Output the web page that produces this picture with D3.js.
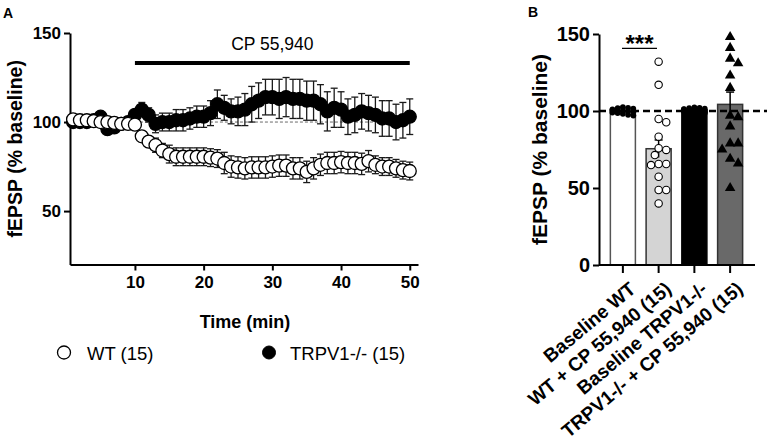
<!DOCTYPE html>
<html>
<head>
<meta charset="utf-8">
<script src="https://cdn.jsdelivr.net/npm/d3@7"></script>
<style>
  html, body { margin: 0; padding: 0; background: #fff; }
  svg { display: block; font-family: "Liberation Sans", Arial, sans-serif; }
</style>
</head>
<body>
<svg id="chart" width="767" height="447"></svg>
<script>
// ---------------- Panel A data ----------------
const timeMin = [1,2,3,4,5,6,7,8,9,10,11,12,13,14,15,16,17,18,19,20,21,22,23,24,25,
  26,27,28,29,30,31,32,33,34,35,36,37,38,39,40,41,42,43,44,45,46,47,48,49,50];
const wtMean = [101.5,101,101,100.5,100,100,99.5,99,99,98.5,
  92,89,87,84,82,80.5,80.5,80.5,80.5,80.5,
  80,79.5,77,75,74.5,74,74.5,74.5,74.5,75,
  75.5,75.5,74,74,72,74,76,77,77,77.5,
  77,77,76.5,78,76,75,75,74,73,72.5];
const wtSem = [1,1,1,1,1,1,1,1,1,1,
  3,3,4,4,5,5,5,5,5,5,
  5,5,6,6,6,6,6,6,6,6,
  6,6,6,6,6,6,6,6,6,6,
  6,6,6,6,5,5,5,5,5,5];
const koMean = [100,100,100,101,103,96,97,99,100,104,
  107,104,99,100,100,101,101,102,103,103,
  105,110,108,106,106,107,110,112,114,114,
  113,114,113,113,112,112,110,106,108,107,
  103,104,106,105,104,102,102,100,101,103];
const koSem = [1,1,1,1,2,2,2,1,1,2,
  4,4,5,5,5,6,6,6,6,6,
  7,8,7,7,8,9,10,10,10,10,
  11,11,11,11,11,11,11,11,11,10,
  10,10,10,10,10,10,10,10,10,10];
const xTicksA = [10,20,30,40,50];
const yTicksA = [50,100,150];
const legendLabels = ["WT (15)", "TRPV1-/- (15)"];
const drugLabel = "CP 55,940";

// ---------------- Panel B data ----------------
const barCats = ["Baseline WT", "WT + CP 55,940 (15)", "Baseline TRPV1-/-", "TRPV1-/- + CP 55,940 (15)"];
const barMeans = [99.7, 75.5, 100.7, 104.3];
const barSem = [0.3, 5.7, 0.2, 8];
const ptsBaseWT = [102.5,102,101.8,101.5,101,100.5,100.3,100,99.8,99.5,99,98.7,98.2,97.5,97];
const ptsWTCP = [132,117,94.8,92.7,83.3,75.8,74.7,71.4,65.6,65.6,64.9,57.3,48.7,48.7,40];
const ptsBaseKO = [102.3,102,101.8,101.5,101.2,101,100.8,100.5,100.3,100,99.8,99.5,99.2,99,98.8];
const ptsKOCP = [148,141,134,131,123,115,97,96,90,79,79,75,69,66,50];
const yTicksB = [0,50,100,150];

const svg = d3.select("#chart");
const FONT = "Liberation Sans, Arial, sans-serif";

// ================= PANEL A =================
const xA = d3.scaleLinear().domain([0.55, 51.2]).range([70, 418]);
const yA = d3.scaleLinear().domain([20, 150]).range([264.5, 33]);

svg.append("text").attr("x", 3).attr("y", 18).attr("font-size", 14).attr("font-weight", "bold").text("A");

// baseline dashed line
svg.append("line")
  .attr("x1", xA(10)).attr("x2", xA(50))
  .attr("y1", yA(100)).attr("y2", yA(100))
  .attr("stroke", "#444").attr("stroke-width", 0.8).attr("stroke-dasharray", "3,2");

// axes
const axA_y = svg.append("g").attr("transform", "translate(70,0)")
  .call(d3.axisLeft(yA).tickValues(yTicksA).tickSize(6).tickPadding(3).tickSizeOuter(0));
const axA_x = svg.append("g").attr("transform", "translate(0,264.5)")
  .call(d3.axisBottom(xA).tickValues(xTicksA).tickSize(6).tickPadding(5).tickSizeOuter(0));
[axA_y, axA_x].forEach(g => {
  g.select(".domain").attr("stroke", "#000").attr("stroke-width", 2);
  g.selectAll(".tick line").attr("stroke", "#000").attr("stroke-width", 2);
  g.selectAll(".tick text").attr("font-size", 17).attr("font-weight", "bold").attr("fill", "#000")
    .attr("font-family", FONT);
});

svg.append("text")
  .attr("transform", `translate(22,${(yA(20)+yA(150))/2}) rotate(-90)`)
  .attr("text-anchor", "middle").attr("font-size", 19.5).attr("font-weight", "bold")
  .text("fEPSP (% baseline)");
svg.append("text")
  .attr("x", 245).attr("y", 328).attr("text-anchor", "middle")
  .attr("font-size", 18).attr("font-weight", "bold").text("Time (min)");

// drug bar
svg.append("line")
  .attr("x1", xA(10)).attr("x2", xA(50))
  .attr("y1", 63).attr("y2", 63)
  .attr("stroke", "#000").attr("stroke-width", 4);
svg.append("text").attr("x", (xA(10)+xA(50))/2).attr("y", 50)
  .attr("text-anchor", "middle").attr("font-size", 17.5).text(drugLabel);

function drawSeries(means, sems, fill) {
  const g = svg.append("g");
  const eb = g.append("g").attr("stroke", "#1a1a1a").attr("stroke-width", 1.3);
  timeMin.forEach((t, i) => {
    const cx = xA(t), y1 = yA(means[i] + sems[i]), y2 = yA(means[i] - sems[i]);
    eb.append("line").attr("x1", cx).attr("x2", cx).attr("y1", y1).attr("y2", y2);
    eb.append("line").attr("x1", cx - 3.5).attr("x2", cx + 3.5).attr("y1", y1).attr("y2", y1);
    eb.append("line").attr("x1", cx - 3.5).attr("x2", cx + 3.5).attr("y1", y2).attr("y2", y2);
  });
  g.selectAll("circle").data(timeMin).join("circle")
    .attr("cx", d => xA(d)).attr("cy", (d, i) => yA(means[i]))
    .attr("r", 6.5).attr("fill", fill).attr("stroke", "#000").attr("stroke-width", 1.3);
}
drawSeries(koMean, koSem, "#000");
drawSeries(wtMean, wtSem, "#fff");

// legend
svg.append("circle").attr("cx", 64).attr("cy", 352.5).attr("r", 6.5)
  .attr("fill", "#fff").attr("stroke", "#000").attr("stroke-width", 1.3);
svg.append("text").attr("x", 87).attr("y", 359.5).attr("font-size", 18.5).text(legendLabels[0]);
svg.append("circle").attr("cx", 269).attr("cy", 352.5).attr("r", 6.5)
  .attr("fill", "#000").attr("stroke", "#000");
svg.append("text").attr("x", 290).attr("y", 359.5).attr("font-size", 18.5).text(legendLabels[1]);

// ================= PANEL B =================
const yB = d3.scaleLinear().domain([0, 150]).range([265, 34]);
const xB = d3.scaleBand().domain(barCats).range([605, 748]).paddingInner(0.3).paddingOuter(0.15);
const barFill = ["#ffffff", "#d4d4d4", "#000000", "#696969"];
const barStroke = ["#555", "#333", "#000", "#333"];

svg.append("text").attr("x", 528).attr("y", 17).attr("font-size", 14).attr("font-weight", "bold").text("B");

// bars
svg.append("g").selectAll("rect").data(barCats).join("rect")
  .attr("x", d => xB(d)).attr("width", xB.bandwidth())
  .attr("y", (d, i) => yB(barMeans[i])).attr("height", (d, i) => yB(0) - yB(barMeans[i]))
  .attr("fill", (d, i) => barFill[i]).attr("stroke", (d, i) => barStroke[i]).attr("stroke-width", 1.5);

// error bars
const ebB = svg.append("g").attr("stroke", "#000").attr("stroke-width", 1.5);
barCats.forEach((c, i) => {
  const cx = xB(c) + xB.bandwidth() / 2;
  const y1 = yB(barMeans[i] + barSem[i]), y2 = yB(barMeans[i] - barSem[i]);
  ebB.append("line").attr("x1", cx).attr("x2", cx).attr("y1", y1).attr("y2", y2);
  ebB.append("line").attr("x1", cx - 4).attr("x2", cx + 4).attr("y1", y1).attr("y2", y1);
});

// dashed 100 line
svg.append("line").attr("x1", 599).attr("x2", 767)
  .attr("y1", yB(100)).attr("y2", yB(100))
  .attr("stroke", "#000").attr("stroke-width", 2.5).attr("stroke-dasharray", "7,4");

// dodge layout for scatter points
function dodge(values, cat, diam, maxOff, step) {
  const cx = xB(cat) + xB.bandwidth() / 2;
  const placed = [];
  const order = values.map((v, i) => i).sort((a, b) => values[b] - values[a]);
  order.forEach((i, n) => {
    const y = yB(values[i]);
    const cands = [0];
    for (let k = 1; k <= 12; k++) { cands.push(k * step, -k * step); }
    let best = null;
    for (const off of cands) {
      if (Math.abs(off) > maxOff) continue;
      const ok = placed.every(p => Math.hypot(p.x - (cx + off), p.y - y) >= diam);
      if (ok) { best = off; break; }
    }
    if (best === null) best = ((n % 5) - 2) * maxOff / 2;
    placed.push({ x: cx + best, y });
  });
  return placed;
}

const gPts = svg.append("g");
dodge(ptsBaseWT, barCats[0], 4.5, 10.5, 2.6).forEach(p =>
  gPts.append("circle").attr("cx", p.x).attr("cy", p.y).attr("r", 2.9).attr("fill", "#000"));
dodge(ptsWTCP, barCats[1], 7.4, 10, 3.8).forEach(p =>
  gPts.append("circle").attr("cx", p.x).attr("cy", p.y).attr("r", 3.7)
    .attr("fill", "#fff").attr("stroke", "#000").attr("stroke-width", 1.1));
dodge(ptsBaseKO, barCats[2], 4.5, 10.5, 2.6).forEach(p =>
  gPts.append("circle").attr("cx", p.x).attr("cy", p.y).attr("r", 2.9).attr("fill", "#000"));
dodge(ptsKOCP, barCats[3], 8, 8, 4).forEach(p =>
  gPts.append("path").attr("d", d3.symbol(d3.symbolTriangle, 48)())
    .attr("transform", `translate(${p.x},${p.y})`).attr("fill", "#000"));

// axes B
const axB_y = svg.append("g").attr("transform", "translate(599,0)")
  .call(d3.axisLeft(yB).tickValues(yTicksB).tickSize(6).tickPadding(3).tickSizeOuter(0));
axB_y.select(".domain").attr("stroke", "#000").attr("stroke-width", 2);
axB_y.selectAll(".tick line").attr("stroke", "#000").attr("stroke-width", 2);
axB_y.selectAll(".tick text").attr("font-size", 20).attr("font-weight", "bold").attr("fill", "#000")
  .attr("font-family", FONT);

const axB_x = svg.append("g").attr("transform", `translate(0,${yB(0)})`)
  .call(d3.axisBottom(xB).tickSize(8).tickSizeOuter(0));
axB_x.select(".domain").attr("d", "M599,0H755").attr("stroke", "#000").attr("stroke-width", 2);
axB_x.selectAll(".tick line").attr("stroke", "#000").attr("stroke-width", 2);
axB_x.selectAll(".tick text")
  .attr("font-size", 19).attr("font-weight", "bold").attr("fill", "#000")
  .attr("font-family", FONT)
  .attr("text-anchor", "end").attr("dy", null).attr("y", null)
  .attr("transform", "translate(14,26) rotate(-40)");

svg.append("text")
  .attr("transform", `translate(547,${(yB(0)+yB(150))/2}) rotate(-90)`)
  .attr("text-anchor", "middle").attr("font-size", 21).attr("font-weight", "bold")
  .text("fEPSP (% baseline)");

// significance
svg.append("line").attr("x1", 622).attr("x2", 657).attr("y1", 48.3).attr("y2", 48.3)
  .attr("stroke", "#000").attr("stroke-width", 1.3);
svg.append("text").attr("x", 639.5).attr("y", 52).attr("text-anchor", "middle")
  .attr("font-size", 24).attr("font-weight", "bold").text("***");
</script>
</body>
</html>
